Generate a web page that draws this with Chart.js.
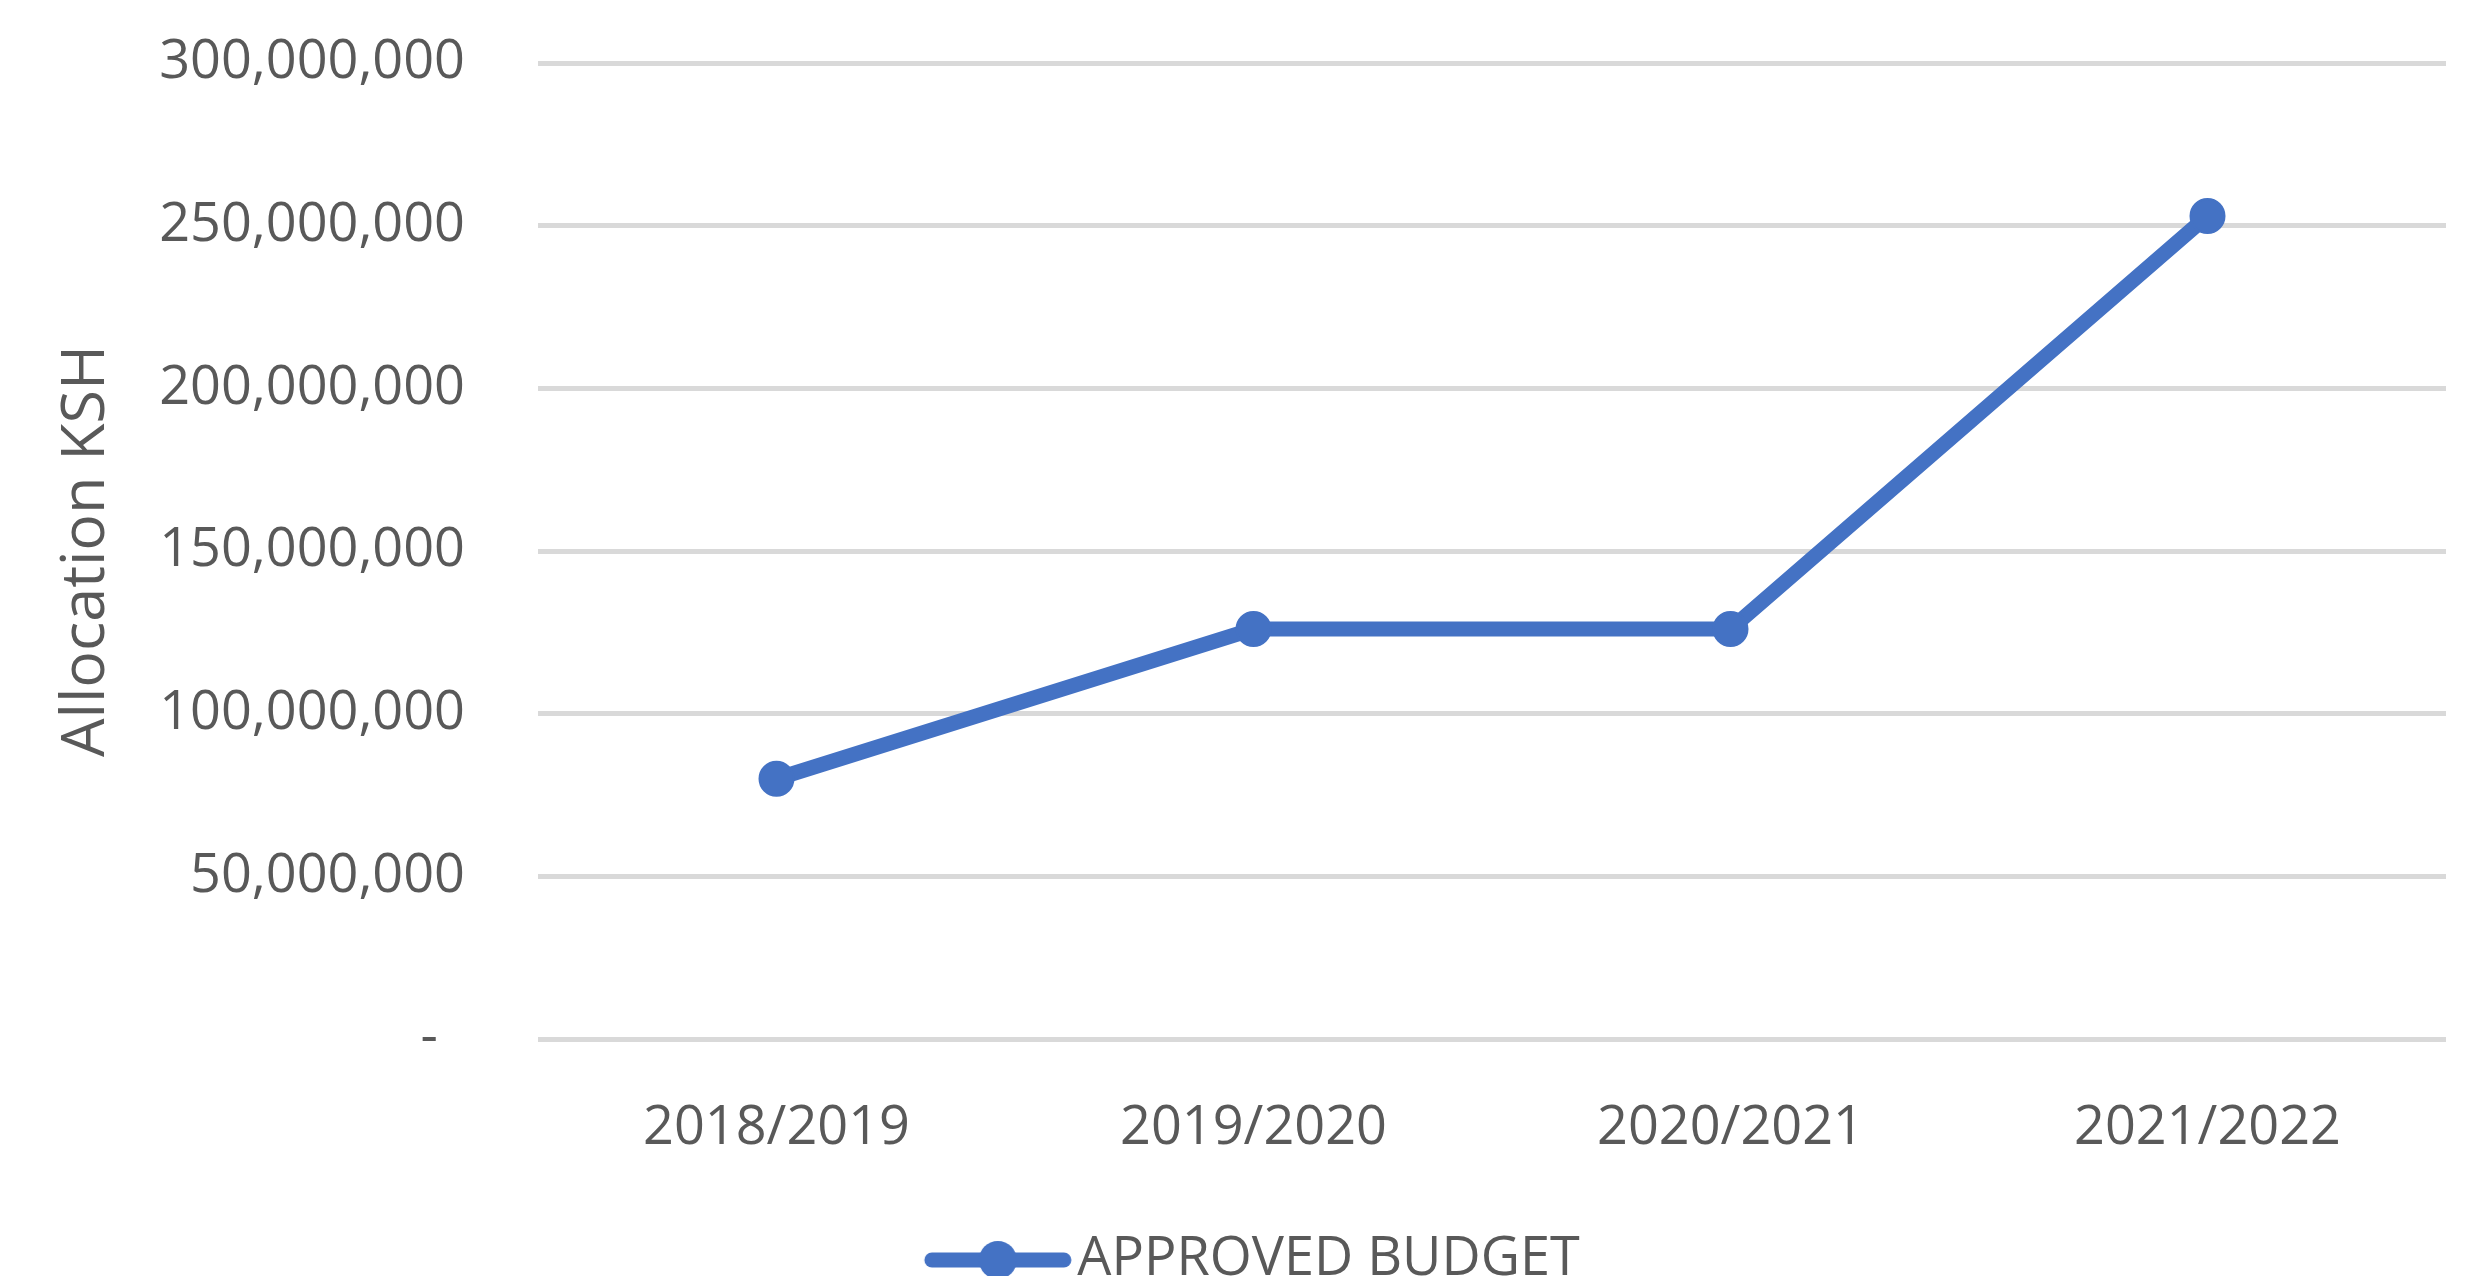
<!DOCTYPE html>
<html>
<head>
<meta charset="utf-8">
<script src="https://cdn.jsdelivr.net/npm/chart.js@4"></script>
<style>
  html, body { margin: 0; padding: 0; background: #fff; overflow: hidden; }
  #wrap { position: relative; width: 2465px; height: 1297px; }
</style>
</head>
<body>
<div id="wrap"><canvas id="budgetChart"></canvas></div>
<script>
// Approved budget allocation per financial year (KSH)
const years = ['2018/2019', '2019/2020', '2020/2021', '2021/2022'];
const approvedBudget = [80000000, 126000000, 126000000, 253000000];
const yTicks = [0, 50000000, 100000000, 150000000, 200000000, 250000000, 300000000];

const lineColor = '#4472C4';
const textColor = '#595959';
const gridColor = '#D9D9D9';
const fontFamily = '"Open Sans", "Noto Sans", sans-serif';

// legend icon: thick line with a dot in the middle, like the Excel key
// (blank strip on the left pushes the whole key to the right)
const legendIcon = document.createElement('canvas');
legendIcon.width = 220;
legendIcon.height = 40;
(() => {
    const c = legendIcon.getContext('2d');
    c.strokeStyle = lineColor;
    c.fillStyle = lineColor;
    c.lineWidth = 15;
    c.lineCap = 'round';
    c.beginPath();
    c.moveTo(79, 20);
    c.lineTo(211, 20);
    c.stroke();
    c.beginPath();
    c.arc(145, 20, 19, 0, Math.PI * 2);
    c.fill();
})();

new Chart(document.getElementById('budgetChart'), {
    type: 'line',
    data: {
        labels: years,
        datasets: [{
            label: 'APPROVED BUDGET',
            data: approvedBudget,
            borderColor: lineColor,
            backgroundColor: lineColor,
            borderWidth: 15,
            tension: 0,
            pointRadius: 17,
            pointBorderWidth: 2,
            pointBackgroundColor: lineColor,
            pointBorderColor: lineColor
        }]
    },
    options: {
        responsive: true,
        maintainAspectRatio: false,
        animation: false,
        layout: {
            padding: { top: 63, right: 10, left: 0, bottom: 0 }
        },
        plugins: {
            legend: {
                position: 'bottom',
                labels: {
                    usePointStyle: true,
                    pointStyle: legendIcon,
                    pointStyleWidth: 175,
                    color: textColor,
                    padding: 10,
                    font: { family: fontFamily, size: 54 }
                }
            },
            tooltip: { enabled: false }
        },
        scales: {
            x: {
                offset: true,
                grid: { display: false },
                border: { display: false },
                ticks: {
                    color: textColor,
                    padding: 49,
                    font: { family: fontFamily, size: 54 }
                },
                afterFit: (scale) => { scale.height = 184; }
            },
            y: {
                min: 0,
                max: 300000000,
                afterBuildTicks: (scale) => {
                    scale.ticks = yTicks.map(v => ({ value: v }));
                },
                grid: {
                    color: gridColor,
                    lineWidth: 5,
                    // invisible tick marks keep labels away from the grid
                    // without padding the top of the chart area
                    drawTicks: true,
                    tickLength: 73,
                    tickColor: 'rgba(0,0,0,0)'
                },
                border: { display: false },
                ticks: {
                    color: textColor,
                    padding: 0,
                    font: { family: fontFamily, size: 54 },
                    callback: (value) => value === 0 ? '-\u2002' : value.toLocaleString('en-US')
                },
                title: {
                    display: true,
                    text: 'Allocation KSH',
                    color: textColor,
                    padding: { top: 50, bottom: 0 },
                    font: { family: fontFamily, size: 61 }
                },
                afterFit: (scale) => { scale.width = 538; }
            }
        }
    }
});
</script>
</body>
</html>
